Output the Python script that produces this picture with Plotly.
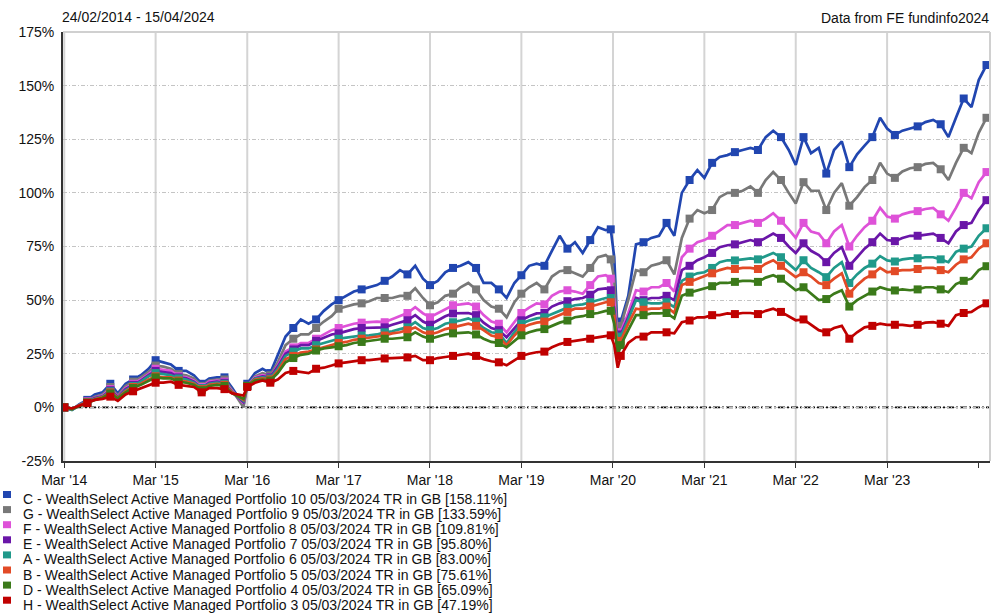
import plotly.graph_objects as go

DATES = [
    "2014-02-24", "2014-03-01", "2014-04-01", "2014-05-01", "2014-06-01", "2014-07-01", "2014-08-01",
    "2014-09-01", "2014-10-01", "2014-11-01", "2014-12-01", "2015-01-01", "2015-02-01", "2015-03-01",
    "2015-04-01", "2015-05-01", "2015-06-01", "2015-07-01", "2015-08-01", "2015-09-01", "2015-10-01",
    "2015-11-01", "2015-12-01", "2016-01-01", "2016-02-15", "2016-03-01", "2016-04-01", "2016-05-01",
    "2016-06-01", "2016-07-01", "2016-08-01", "2016-09-01", "2016-10-01", "2016-11-01", "2016-12-01",
    "2017-01-01", "2017-02-01", "2017-03-01", "2017-04-01", "2017-05-01", "2017-06-01", "2017-07-01",
    "2017-08-01", "2017-09-01", "2017-10-01", "2017-11-01", "2017-12-01", "2018-01-01", "2018-02-01",
    "2018-03-01", "2018-04-01", "2018-05-01", "2018-06-01", "2018-07-01", "2018-08-01", "2018-09-01",
    "2018-10-01", "2018-11-01", "2018-12-01", "2019-01-01", "2019-02-01", "2019-03-01", "2019-04-01",
    "2019-05-01", "2019-06-01", "2019-07-01", "2019-08-01", "2019-09-01", "2019-10-01", "2019-11-01",
    "2019-12-01", "2020-01-01", "2020-02-01", "2020-02-21", "2020-03-06", "2020-03-20", "2020-04-01",
    "2020-05-01", "2020-06-01", "2020-07-01", "2020-08-01", "2020-09-01", "2020-10-01", "2020-11-01",
    "2020-12-01", "2021-01-01", "2021-02-01", "2021-03-01", "2021-04-01", "2021-05-01", "2021-06-01",
    "2021-07-01", "2021-08-01", "2021-09-01", "2021-10-01", "2021-11-01", "2021-12-01", "2022-01-01",
    "2022-02-01", "2022-03-01", "2022-04-01", "2022-05-01", "2022-06-01", "2022-07-01", "2022-08-01",
    "2022-09-01", "2022-10-01", "2022-11-01", "2022-12-01", "2023-01-01", "2023-02-01", "2023-03-01",
    "2023-04-01", "2023-05-01", "2023-06-01", "2023-07-01", "2023-08-01", "2023-09-01", "2023-10-01",
    "2023-11-01", "2023-12-01", "2024-01-01", "2024-02-01", "2024-03-01", "2024-04-01", "2024-04-15",
]

C_P10 = [0, 0, -1, 1.5, 3.5, 6, 7, 11, 6.5, 11, 13, 15, 18, 22, 21, 20, 17, 17, 15, 11, 13.5, 14, 14, 9, 1,
         11, 16, 18, 16, 24, 33, 37, 41, 39, 41, 45, 48, 50, 52, 54, 55, 56, 57, 59, 61, 64, 62, 66, 60,
         57, 59, 63, 65, 66, 67.7, 65, 58, 58, 55, 51, 58, 61.6, 66, 67, 66, 73, 80, 74, 77, 72, 78, 84,
         82.6, 83, 70, 33, 40, 52, 76, 77, 79, 80, 86, 80, 100, 106, 110.6, 107, 114, 116.7, 117.6, 119,
         120, 121, 120, 126, 129, 126, 120, 113, 126, 118.5, 121, 109, 120, 124, 112, 118, 122, 126, 135,
         130, 127, 129, 130, 131, 133, 134, 132, 126, 135, 144, 140, 152.6, 159.6, 158.11]
G_P9 = [0, 0, -1, 1.2, 3, 5, 6, 9.5, 5.5, 10, 12, 14, 16.5, 19.5, 19, 18, 15.5, 15, 13.5, 10, 12.5, 13, 13,
        8, 0, 10, 14.5, 16, 15, 21, 29, 32, 34, 34, 37, 40, 42.5, 46, 47, 48, 48.5, 49.5, 51, 51, 51, 52,
        52, 55.5, 51, 47.6, 49, 52, 53, 56, 58, 55, 50, 47, 46, 42, 49, 53, 56, 58, 55, 61, 63.5, 64, 62.5,
        61, 65, 70, 71, 69, 60, 30, 38, 50, 64, 63, 66, 67, 68.6, 62, 79, 88, 92, 90.5, 92, 98, 100, 100,
        101, 103, 100, 106, 109.7, 106, 100, 95, 105, 101, 101, 92, 100, 104.5, 94, 98, 102.7, 106, 114,
        109, 107, 110, 111.5, 112, 113.5, 114, 111, 106, 114, 121, 118.5, 128, 135, 133.59]
F_P8 = [0, 0, -1, 1, 2.8, 4.5, 5.5, 8.5, 5, 9, 11, 13, 15.5, 18, 17.5, 17, 14.5, 14, 12.5, 9.5, 12, 12.5,
        12, 7.5, 2, 10, 14, 15, 14, 19.5, 26, 28, 30, 30, 32, 34, 36, 37, 38, 39, 39.5, 39.7, 40, 39.7, 41,
        42.5, 44, 46.7, 43.8, 42, 44, 46, 47.6, 48, 48.5, 47, 43, 40, 39, 35, 40, 44, 46.5, 48.5, 48, 52,
        54, 54.6, 54, 53, 57, 61, 61.6, 60, 50, 30, 35, 44, 54.6, 54, 56, 56, 58, 54, 70, 74, 77, 78, 80,
        82.6, 85, 85, 86, 87, 86, 88, 90.5, 87, 83, 79, 86, 82, 81, 76.5, 82, 85, 75, 80, 84, 87, 93, 89,
        88, 90, 91, 91.5, 92.5, 93, 90, 87, 93, 100, 97.5, 105, 109.7, 109.81]
E_P7 = [0, 0, -1, 1, 2.6, 4.3, 5.2, 8, 4.8, 8.5, 10.5, 12.5, 15, 17, 16.5, 16, 14, 13.5, 12, 9, 11.5, 12,
        11.5, 7, 2.5, 10, 13.5, 14.5, 14, 19, 25, 27, 29, 29, 31, 32.5, 34, 34.5, 35.5, 36.5, 37, 37, 37.3,
        37.3, 38.5, 39.5, 40.6, 43, 40, 38.5, 40.5, 42.5, 43.8, 44, 44, 43, 39.5, 37, 36, 32.7, 37, 40.6,
        42.5, 43.8, 44, 47, 48.5, 49.5, 50.5, 51, 52.5, 55, 55.5, 54.6, 46, 29, 34, 42, 51, 50, 51, 51, 52,
        50, 64, 66, 68.6, 70, 72, 74.7, 75.6, 76, 77, 78, 77, 79, 81, 79, 75, 72, 76.5, 73, 71, 67.7, 72,
        74.7, 66, 70, 74, 77, 81, 78, 77.5, 79, 80, 80, 80.5, 81, 79, 76.5, 82, 85, 86, 92, 96.6, 95.80]
A_P6 = [0, 0, -1.2, 1, 2.5, 4, 5, 7.5, 4.5, 8, 10, 12, 14.5, 16, 15.5, 15, 13.5, 13, 11.5, 9, 11, 11.5,
        11, 7, 3, 10, 13.5, 14, 13.5, 18, 24, 26, 27.5, 27.5, 29, 30, 31, 32, 32.5, 33, 33.5, 33.6, 34, 35,
        35.5, 36.5, 37.3, 39.7, 37, 36, 37, 39, 39.7, 40.5, 41.5, 40, 37, 35, 34.5, 30, 35, 39, 40.5, 41.5,
        42, 43.5, 45, 46.5, 47.6, 48, 49, 50, 51, 51, 44, 28, 33, 41, 50, 49, 48.5, 48.5, 49, 46.7, 59, 61,
        62.5, 63, 65, 67.7, 68.6, 68.5, 69, 69.5, 69, 70.5, 72, 70, 67, 64, 68.6, 65, 63, 60.7, 65, 67.7,
        58, 62, 65, 67, 70.5, 68.5, 68, 69, 69.5, 69.5, 70, 70, 69, 67.7, 72.5, 74, 75, 80, 83.5, 83.00]
B_P5 = [0, 0, -0.8, 1, 2.3, 3.8, 4.8, 7, 4.5, 7.5, 9.5, 11, 13, 14.5, 14, 14, 12.5, 12, 11, 8.5, 10.5, 11,
        10.5, 7, 3.5, 10, 13, 13.5, 13, 17, 22.5, 24, 25.5, 26, 27, 28, 29, 30, 30.5, 31.5, 32, 32.5, 33,
        33.5, 34.5, 35, 36, 37.3, 35, 34, 35, 36.5, 37.3, 38, 39, 38, 36, 33.5, 32.7, 29, 33.5, 37, 38.5,
        39.5, 40, 41.5, 43, 44.5, 46, 46, 47, 48, 49, 49, 43, 26.5, 31, 39, 46, 45.5, 46, 46, 47, 44, 57,
        58.5, 60, 61, 62.5, 64, 65, 64.5, 65, 65, 64.5, 67, 68.6, 66, 63, 60.7, 63, 61, 58, 57, 60, 62.5,
        53, 57, 60, 62, 65, 63, 63.5, 64, 64, 64.5, 65, 65, 64, 63, 66.5, 69, 70, 74, 76.5, 75.61]
D_P4 = [0, 0, -0.8, 0.8, 2.2, 3.5, 4.5, 6.5, 4.2, 7, 9, 10.5, 12.5, 14, 13.5, 13.5, 12, 11.5, 10.5, 8, 10,
        10.5, 10, 6.5, 4, 10, 12.5, 13, 12.5, 16, 21, 23, 24.5, 25, 26.5, 27.5, 28, 28.5, 29, 30, 30.5, 31,
        31.5, 32, 32, 32.5, 32.7, 35, 33, 32, 33, 34, 34.5, 34.8, 35, 34, 32, 30.5, 30, 28, 31, 33.6, 35,
        36, 36.5, 38, 39.5, 40.5, 42, 42.5, 43.5, 44, 45, 45, 39, 24, 29, 36, 43, 43, 43.8, 43.8, 44, 41.5,
        52, 53.5, 54.6, 55.5, 56.5, 58, 58, 58.5, 59, 59, 58.5, 60.5, 61.6, 60, 57, 54.6, 56, 53, 50, 50.5,
        53, 54.6, 47, 50, 52, 54, 56, 55, 54.5, 55, 54.6, 55, 56, 56, 55, 53.7, 57.5, 59, 60, 64, 65.8,
        65.09]
H_P3 = [0, 0, -0.5, 0.8, 2, 3.5, 4, 5, 3, 6, 7.5, 9, 10.5, 11.5, 11.5, 12, 10.5, 10, 9.5, 7, 9, 9, 8.5,
        6.5, 5.5, 9.5, 11.5, 12.6, 11.5, 13, 16, 17, 16.5, 16, 18, 18.5, 19.5, 20.5, 21, 21.5, 22, 22, 22.5,
        22.8, 23, 23, 23.3, 24, 22, 22, 23, 23.5, 24, 24.5, 25, 24, 22.5, 21.5, 21, 19.6, 22, 24, 25, 25.7,
        26, 28, 29.5, 30.5, 31, 31.5, 32, 32.5, 33, 33.6, 29, 18.5, 24, 30, 32.7, 33, 35, 35, 35, 34.5,
        39.7, 40.5, 42, 42, 43, 43, 43.8, 43.5, 44, 44, 43.5, 45, 46, 44.5, 42.5, 40.6, 41, 38.5, 36, 35,
        37, 38, 32, 35, 37.3, 38, 39, 38.5, 38.5, 38.5, 38, 38.5, 39.5, 39.7, 39, 38, 43, 44, 44.5, 46.7,
        48.5, 47.19]

SERIES = [
    ("C - WealthSelect Active Managed Portfolio 10 05/03/2024 TR in GB [158.11%]", C_P10, "#2146B0"),
    ("G - WealthSelect Active Managed Portfolio 9 05/03/2024 TR in GB [133.59%]", G_P9, "#787878"),
    ("F - WealthSelect Active Managed Portfolio 8 05/03/2024 TR in GB [109.81%]", F_P8, "#DE52D8"),
    ("E - WealthSelect Active Managed Portfolio 7 05/03/2024 TR in GB [95.80%]", E_P7, "#6A16A8"),
    ("A - WealthSelect Active Managed Portfolio 6 05/03/2024 TR in GB [83.00%]", A_P6, "#20998A"),
    ("B - WealthSelect Active Managed Portfolio 5 05/03/2024 TR in GB [75.61%]", B_P5, "#E24A26"),
    ("D - WealthSelect Active Managed Portfolio 4 05/03/2024 TR in GB [65.09%]", D_P4, "#3B7A1A"),
    ("H - WealthSelect Active Managed Portfolio 3 05/03/2024 TR in GB [47.19%]", H_P3, "#C00000"),
]

X_TICKS = ["2014-03-01", "2015-03-01", "2016-03-01", "2017-03-01", "2018-03-01", "2019-03-01",
           "2020-03-01", "2021-03-01", "2022-03-01", "2023-03-01", "2024-03-01"]
X_TICK_TEXT = ["Mar '14", "Mar '15", "Mar '16", "Mar '17", "Mar '18", "Mar '19", "Mar '20",
               "Mar '21", "Mar '22", "Mar '23", ""]
X_GRID = X_TICKS[:-1]
Y_TICKS = [-25, 0, 25, 50, 75, 100, 125, 150, 175]
Y_TICK_TEXT = ["-25%", "0%", "25%", "50%", "75%", "100%", "125%", "150%", "175%"]

W, H = 993, 613
L, R, T, B = 63, 3, 32, 152
PW, PH = W - L - R, H - T - B


def px(x):
    return (x - L) / PW


def py(y):
    return (H - B - y) / PH


FONT = "Liberation Sans, Arial, sans-serif"

fig = go.Figure()
for name, vals, col in SERIES:
    sizes = [8 if (i % 3 == 1) else 0 for i in range(len(vals))]
    fig.add_trace(go.Scatter(
        x=DATES, y=vals, mode="lines+markers", name=name,
        line=dict(color=col, width=2.7),
        marker=dict(symbol="square", size=sizes, color=col, opacity=1, line=dict(width=0)),
        showlegend=False, hoverinfo="skip",
    ))

shapes = []
for d in X_GRID:
    shapes.append(dict(type="line", xref="x", yref="paper", x0=d, x1=d, y0=0, y1=1,
                       line=dict(color="#d4d4d4", width=2), layer="below"))
shapes += [
    dict(type="line", xref="paper", yref="y", x0=0, x1=1, y0=0, y1=0,
         line=dict(color="#111", width=1.6, dash="7px,2px,2px,2px"), layer="between"),
    dict(type="line", xref="paper", yref="paper", x0=0, x1=1, y0=1, y1=1,
         line=dict(color="#d0d0d0", width=2)),
    dict(type="line", xref="paper", yref="paper", x0=1, x1=1, y0=0, y1=1,
         line=dict(color="#d0d0d0", width=2)),
]
annotations = [
    dict(text="24/02/2014 - 15/04/2024", xref="paper", yref="paper", x=px(60), y=py(17),
         xanchor="left", yanchor="middle", showarrow=False, font=dict(size=14, color="#111", family=FONT)),
    dict(text="Data from FE fundinfo2024", xref="paper", yref="paper", x=px(991), y=py(18),
         xanchor="right", yanchor="middle", showarrow=False, font=dict(size=14, color="#111", family=FONT)),
]
for i, (name, vals, col) in enumerate(SERIES):
    cy = 499 + i * 15.1
    shapes.append(dict(type="rect", xref="paper", yref="paper", x0=px(3), x1=px(11),
                       y0=py(cy - 1), y1=py(cy - 8), fillcolor=col, line=dict(width=0)))
    annotations.append(dict(text=name, xref="paper", yref="paper", x=px(21), y=py(cy),
                            xanchor="left", yanchor="middle", showarrow=False,
                            font=dict(size=14, color="#111", family=FONT)))

fig.update_layout(
    width=W, height=H, margin=dict(l=L, r=R, t=T, b=B),
    paper_bgcolor="white", plot_bgcolor="white",
    font=dict(family=FONT, size=14, color="#111"),
    shapes=shapes, annotations=annotations,
    xaxis=dict(type="date", range=["2014-02-24", "2024-04-15"], tickvals=X_TICKS, ticktext=X_TICK_TEXT,
               showgrid=False, showline=True, linecolor="#333",
               linewidth=2, ticks="outside", ticklen=5, tickcolor="#333", tickwidth=1,
               zeroline=False, tickfont=dict(size=14, color="#111"), tickangle=0),
    yaxis=dict(range=[-25, 175], tickvals=Y_TICKS, ticktext=Y_TICK_TEXT, showgrid=True,
               gridcolor="#c4c4c4", gridwidth=1, griddash="4px,2px,1px,2px", showline=True,
               linecolor="#333", linewidth=2, ticks="", zeroline=False,
               tickfont=dict(size=14, color="#111"), ticklabelstandoff=4),
)

fig.write_html("out.html", config={"displayModeBar": False},
               post_script="document.body.style.margin='0';")
